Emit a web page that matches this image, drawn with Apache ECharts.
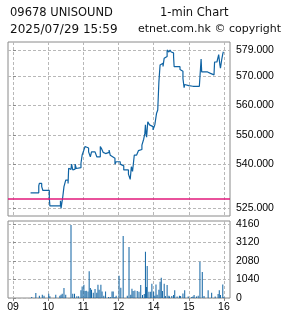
<!DOCTYPE html>
<html><head><meta charset="utf-8">
<script src="https://cdn.jsdelivr.net/npm/echarts@6/dist/echarts.min.js"></script>
<style>html,body{margin:0;padding:0;background:#fff}#c{width:285px;height:318px}</style>
</head><body><div id="c"></div>
<script>
// Trading minutes counted from 09:00 with the 12:00-13:00 lunch break removed
const priceMinutes = [30,44,45,49,51,62,63,81,82,85,87,90,94,95,97,99,100,102,104,106,108,110,116,118,120,123,126,129,132,134,140,143,149,151,154,156,158,160,164,166,168,170,174,176,183,186,189,197,200,202,204,207,211,214,217,220,223,225,226,227,228,230,233,236,239,242,245,247,249,251,254,256,258,261,263,266,268,270,272,274,275,285,287,290,292,293,295,296,300,307,309,318,320,321,322,332,337,343,344,348,351,353,354,356,358,359];
const priceValues = [530.2,532.6,533.4,532.3,531.0,528.3,525.7,527.5,524.9,528.9,532.3,534.5,533.4,538.6,538.2,537.6,540.0,538.0,538.3,540.0,538.5,538.8,540.3,543.1,544.2,546.0,545.5,544.2,542.5,544.2,544.8,542.5,546.0,545.3,544.0,543.6,543.2,544.0,544.8,543.0,542.5,542.0,540.0,540.8,540.0,539.4,538.0,536.6,534.8,539.1,537.5,543.1,543.7,544.6,545.0,546.5,548.5,550.5,553.4,550.5,549.2,554.5,553.4,552.8,551.7,553.4,557.4,558.5,568.2,573.9,574.5,573.4,576.2,576.8,579.0,578.3,579.0,578.3,578.0,576.8,573.3,572.3,571.7,569.3,566.1,567.2,567.6,566.8,566.6,566.2,566.6,567.2,566.5,575.9,571.5,571.0,570.5,571.0,574.9,574.6,577.4,574.0,572.8,575.5,577.7,578.4];
const volumeMinutes = [32,39,45,50,53,61,63,73,80,82,84,87,90,99,102,105,109,112,116,118,121,123,125,128,130,132,134,137,140,143,145,147,150,152,155,158,163,166,169,171,174,176,181,184,188,195,198,201,203,205,208,212,215,218,221,224,226,228,229,232,235,237,240,242,244,246,249,251,253,255,258,260,263,266,267,271,274,276,280,284,286,290,293,299,305,307,309,313,316,319,323,326,333,339,345,350,352,354,358,360];
const volumeValues = [60,280,130,185,130,240,100,185,130,185,240,560,185,4100,240,240,100,100,430,650,750,400,410,370,1500,560,470,300,500,300,750,470,750,370,130,370,60,60,370,370,60,130,1250,580,3480,130,2870,180,520,400,420,390,350,730,170,230,2600,620,1800,350,350,800,350,120,760,180,470,920,1140,390,800,110,730,130,90,110,170,430,80,130,110,260,430,80,60,80,170,80,130,2040,1460,110,430,300,80,230,430,170,760,60];
const prevClose = 528.3;
const priceTicks = [525,540,550,560,570,579];
const volumeTicks = [0,1040,2080,3120,4160];
const timeTickValues = [0,60,120,180,240,300,360];
const timeTickLabels = ['09','10','11','12','14','15','16'];
const titleLeft = '09678 UNISOUND';
const titleRight = '1-min Chart';
const subLeft = '2025/07/29 15:59';
const subRight = 'etnet.com.hk \u00a9 copyright';

const blue = '#0f63a3';
const gridColor = '#b8b8b8';
const borderColor = '#8a8a8a';
const labelStyle = {fontFamily:'Liberation Sans', fontSize:10.5, color:'#000'};
const xMin = -8.5, xMax = 370.3;
const dash = {color:gridColor, type:[3,2], width:1};

const chart = echarts.init(document.getElementById('c'), null, {renderer:'canvas'});
chart.setOption({
  animation:false,
  grid:[
    {left:8, top:42, width:222, height:174, show:true, borderColor:borderColor, borderWidth:1, backgroundColor:'transparent'},
    {left:8, top:221, width:222, height:77, show:true, borderColor:borderColor, borderWidth:1, backgroundColor:'transparent'}
  ],
  xAxis:[
    {type:'value', gridIndex:0, min:xMin, max:xMax, axisLine:{show:false},
     axisTick:{show:false, customValues:timeTickValues}, axisLabel:{show:false, customValues:timeTickValues},
     splitLine:{show:true, customValues:timeTickValues, lineStyle:dash}},
    {type:'value', gridIndex:1, min:xMin, max:xMax, axisLine:{show:false},
     axisTick:{show:true, length:3, customValues:timeTickValues, lineStyle:{color:borderColor}},
     axisLabel:Object.assign({customValues:timeTickValues, margin:4,
       formatter:function(v){const i=timeTickValues.indexOf(v);return i>=0?timeTickLabels[i]:'';}}, labelStyle),
     splitLine:{show:true, customValues:timeTickValues, lineStyle:dash}}
  ],
  yAxis:[
    {type:'value', gridIndex:0, position:'right', min:522.27, max:581.73, axisLine:{show:false},
     axisTick:{show:true, length:3, customValues:priceTicks, lineStyle:{color:borderColor}},
     axisLabel:Object.assign({customValues:priceTicks, margin:6, formatter:function(v){return v.toFixed(3);}}, labelStyle),
     splitLine:{show:true, customValues:priceTicks, lineStyle:dash}},
    {type:'value', gridIndex:1, position:'right', min:0, max:4330, axisLine:{show:false},
     axisTick:{show:true, length:3, customValues:volumeTicks, lineStyle:{color:borderColor}},
     axisLabel:Object.assign({customValues:volumeTicks, margin:6, formatter:function(v){return String(v);}}, labelStyle),
     splitLine:{show:true, customValues:volumeTicks, lineStyle:dash}}
  ],
  graphic:[
    {type:'text', x:10, y:13, style:{text:titleLeft, fontFamily:'DejaVu Sans', fontSize:11.5, fill:'#111', verticalAlign:'middle'}},
    {type:'text', x:160, y:13, style:{text:titleRight, fontFamily:'DejaVu Sans', fontSize:11.5, fill:'#111', verticalAlign:'middle'}},
    {type:'text', x:10, y:29.5, style:{text:subLeft, fontFamily:'DejaVu Sans', fontSize:12, fill:'#111', verticalAlign:'middle'}},
    {type:'text', x:281, y:29.5, style:{text:subRight, fontFamily:'DejaVu Sans', fontSize:11, fill:'#111', verticalAlign:'middle', align:'right'}}
  ],
  series:[
    {type:'line', xAxisIndex:0, yAxisIndex:0, step:'end', showSymbol:false, symbol:'none',
     lineStyle:{color:blue, width:1.2},
     data:priceMinutes.map(function(m,i){return [m, priceValues[i]];}),
     markLine:{symbol:'none', silent:true, label:{show:false}, lineStyle:{color:'#e2187b', width:1.5, type:'solid'},
       data:[{yAxis:prevClose}]}},
    {type:'bar', xAxisIndex:1, yAxisIndex:1, barWidth:1, itemStyle:{color:blue},
     data:volumeMinutes.map(function(m,i){return [m, volumeValues[i]];})}
  ]
});
</script>
</body></html>
